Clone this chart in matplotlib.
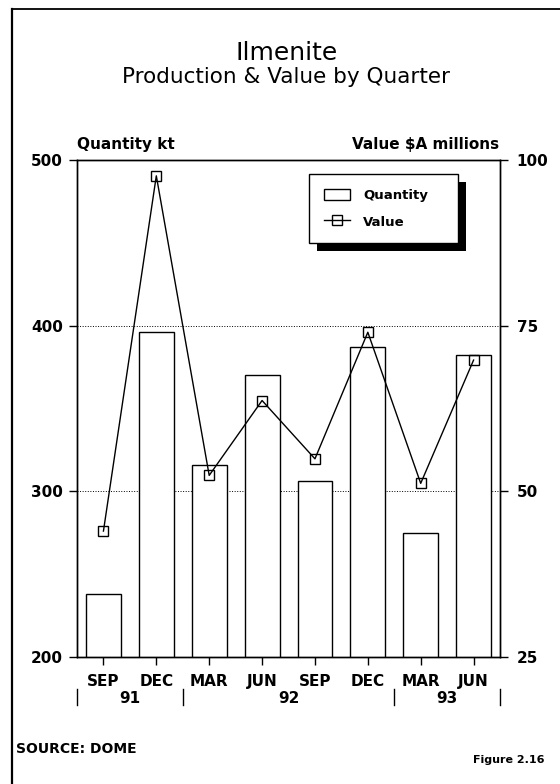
import matplotlib
matplotlib.use('Agg')
import matplotlib.pyplot as plt
import numpy as np
from matplotlib.lines import Line2D
from matplotlib.patches import Rectangle
from matplotlib.transforms import IdentityTransform, blended_transform_factory

plt.rcParams['font.family'] = ['DejaVu Sans']

# Chart data
quarters = ['SEP', 'DEC', 'MAR', 'JUN', 'SEP', 'DEC', 'MAR', 'JUN']
years = ['91', '92', '93']
quarters_per_year = [2, 4, 2]
quantity_kt = [238, 396, 316, 370, 306, 387, 275, 382]
value_millions = [44.0, 97.6, 52.4, 63.7, 54.9, 74.0, 51.2, 69.8]

fig = plt.figure(figsize=(5.6, 7.84), dpi=100)
ax = fig.add_axes([0.1375, 0.162, 0.7554, 0.634])
ax2 = ax.twinx()

x = np.arange(len(quarters))

# Bars for quantity, line for value
bars = ax.bar(x, quantity_kt, width=0.66, color='white', edgecolor='black',
              linewidth=1, zorder=2, label='Quantity')
line, = ax2.plot(x, value_millions, color='black', lw=1, marker='s', ms=7,
                 mfc='none', mec='black', mew=1, label='Value')

# Limits and ticks
ax.set_xlim(-0.5, 7.5)
ax.set_ylim(200, 500)
ax2.set_ylim(25, 100)
ax.set_yticks([200, 300, 400, 500])
ax2.set_yticks([25, 50, 75, 100])
ax.set_xticks(x)
ax.set_xticklabels(quarters)

ax.yaxis.grid(True, linestyle=':', color='black', lw=0.7)
ax.set_axisbelow(True)

ax.tick_params(axis='y', direction='out', length=6, width=1, labelsize=11, pad=4)
ax.tick_params(axis='x', direction='out', length=6, width=1, labelsize=11, pad=6)
ax2.tick_params(axis='y', direction='out', length=6, width=1, labelsize=11, pad=6)
for lbl in ax.get_xticklabels() + ax.get_yticklabels() + ax2.get_yticklabels():
    lbl.set_fontweight('bold')

for a in (ax, ax2):
    for sp in a.spines.values():
        sp.set_linewidth(1)
        sp.set_color('black')

# Year groups under the quarter labels
trans = blended_transform_factory(ax.transData, ax.transAxes)
edges = np.concatenate([[0], np.cumsum(quarters_per_year)]) - 0.5
for s in edges:
    ax.plot([s, s], [-0.065, -0.097], transform=trans, clip_on=False,
            color='black', lw=1)
for i, yr in enumerate(years):
    ax.text((edges[i] + edges[i + 1]) / 2, -0.084, yr, transform=trans,
            ha='center', va='center', fontsize=11, fontweight='bold')

# Titles and axis captions
fig.text(0.511, 0.9235, 'Ilmenite', ha='center', va='baseline', fontsize=18)
fig.text(0.511, 0.8935, 'Production & Value by Quarter', ha='center',
         va='baseline', fontsize=15.5)
fig.text(0.1375, 0.81, 'Quantity kt', ha='left', va='baseline',
         fontsize=11, fontweight='bold')
fig.text(0.891, 0.81, 'Value $A millions', ha='right', va='baseline',
         fontsize=11, fontweight='bold')
fig.text(0.0286, 0.0395, 'SOURCE: DOME', ha='left', va='baseline',
         fontsize=10, fontweight='bold')
fig.text(0.973, 0.0268, 'Figure 2.16', ha='right', va='baseline',
         fontsize=8, fontweight='bold')

# Legend with a hard drop shadow
leg = ax2.legend([bars, line], ['Quantity', 'Value'], loc='upper left',
                 bbox_to_anchor=(0.5518, 0.778 - 0.088, 0.266, 0.088),
                 bbox_transform=fig.transFigure, mode='expand',
                 borderaxespad=0, fancybox=False, framealpha=1,
                 edgecolor='black', prop={'size': 9.5, 'weight': 'bold'},
                 handlelength=2.0, handleheight=1.0, handletextpad=1.0,
                 labelspacing=1.0, borderpad=1.1, numpoints=1)
leg.get_frame().set_linewidth(1)

fig.canvas.draw()
bb = leg.get_window_extent()
shadow = Rectangle((bb.x0 + 8, bb.y0 - 8), bb.width, bb.height,
                   transform=IdentityTransform(), facecolor='black',
                   edgecolor='none', zorder=4.5)
shadow.set_clip_on(False)
ax2.add_artist(shadow)

# Page border (left and top)
fig.add_artist(Line2D([0.0223, 0.0223], [0, 0.9885], color='black', lw=1.6))
fig.add_artist(Line2D([0.0223, 1], [0.9885, 0.9885], color='black', lw=1.3))

plt.savefig('out.png', dpi=100)
